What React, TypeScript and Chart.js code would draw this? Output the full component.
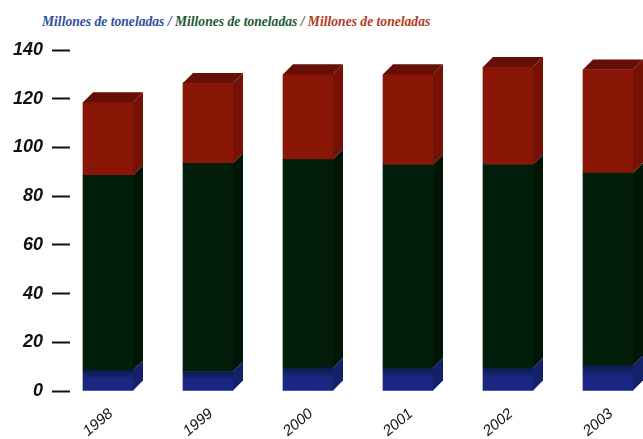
import React, { useEffect, useRef } from "react";
import { Chart, registerables } from "chart.js";
Chart.register(...registerables);

const years = ["1998", "1999", "2000", "2001", "2002", "2003"];
const blueValues = [8.5, 8, 9.5, 9.5, 9.5, 10.5];
const greenValues = [80, 85.5, 85.5, 83.5, 83.5, 79];
const redValues = [30, 33, 35, 37, 40, 42.5];
const yTickValues = [0, 20, 40, 60, 80, 100, 120, 140];
const titleTexts = ["Millones de toneladas /", " Millones de toneladas /", " Millones de toneladas"];
const titleColors = ["#2f4f9c", "#1d5a34", "#b23a22"];

const frontColors = ["#1a2884", "#021d0a", "#8a1606"];
const sideColors = ["#13206a", "#011607", "#761205"];
const topColor = "#650f06";
const DEPTH = 10;
const CANVAS_W = 720;
const CANVAS_H = 439;

const bar3d = {
  id: "bar3d",
  afterDatasetsDraw(chart: any) {
    const ctx = chart.ctx;
    const n = chart.data.datasets.length;
    chart.data.datasets.forEach((_ds: any, di: number) => {
      const meta = chart.getDatasetMeta(di);
      meta.data.forEach((bar: any) => {
        const p = bar.getProps(["x", "y", "base", "width"], true);
        const l = p.x - p.width / 2;
        const r = p.x + p.width / 2;
        const top = Math.min(p.y, p.base);
        const bot = Math.max(p.y, p.base);
        ctx.save();
        ctx.fillStyle = sideColors[di];
        ctx.beginPath();
        ctx.moveTo(r, top);
        ctx.lineTo(r + DEPTH, top - DEPTH);
        ctx.lineTo(r + DEPTH, bot - DEPTH);
        ctx.lineTo(r, bot);
        ctx.closePath();
        ctx.fill();
        if (di === n - 1) {
          ctx.fillStyle = topColor;
          ctx.beginPath();
          ctx.moveTo(l, top);
          ctx.lineTo(l + DEPTH, top - DEPTH);
          ctx.lineTo(r + DEPTH, top - DEPTH);
          ctx.lineTo(r, top);
          ctx.closePath();
          ctx.fill();
        }
        ctx.restore();
      });
    });
  },
};

export default function App() {
  const ref = useRef<HTMLCanvasElement | null>(null);
  useEffect(() => {
    if (!ref.current) return;
    const toPts = (arr: number[]) => arr.map((v, i) => ({ x: i, y: v }));
    const blueFill = (c: any) => {
      const chart = c.chart;
      const ys = chart.scales?.y;
      if (!ys || c.dataIndex === undefined) return frontColors[0];
      const y0 = ys.getPixelForValue(0);
      const y1 = ys.getPixelForValue(blueValues[c.dataIndex] ?? 0);
      if (!isFinite(y0) || !isFinite(y1) || y0 === y1) return frontColors[0];
      const g = chart.ctx.createLinearGradient(0, y0, 0, y1);
      g.addColorStop(0, "#1a2884");
      g.addColorStop(0.55, "#1a2884");
      g.addColorStop(1, "#0c1a48");
      return g;
    };
    const chart = new Chart(ref.current, {
      type: "bar",
      data: {
        datasets: [
          { data: toPts(blueValues), backgroundColor: blueFill, barThickness: 50, borderWidth: 0 },
          { data: toPts(greenValues), backgroundColor: frontColors[1], barThickness: 50, borderWidth: 0 },
          { data: toPts(redValues), backgroundColor: frontColors[2], barThickness: 50, borderWidth: 0 },
        ] as any,
      },
      options: {
        animation: false,
        responsive: false,
        devicePixelRatio: 1,
        layout: { padding: { top: 50, right: 0, left: 0, bottom: 0 } },
        plugins: { legend: { display: false }, tooltip: { enabled: false }, title: { display: false } },
        scales: {
          x: {
            type: "linear",
            stacked: true,
            offset: false,
            min: -0.38,
            max: -0.38 + (CANVAS_W - 70) / 100,
            grid: { display: false },
            border: { display: false },
            afterBuildTicks: (s: any) => {
              s.ticks = years.map((_y, i) => ({ value: i }));
            },
            afterFit: (s: any) => {
              s.height = CANVAS_H - 391;
            },
            ticks: {
              autoSkip: false,
              minRotation: 40,
              maxRotation: 40,
              padding: 6,
              labelOffset: 3,
              color: "#111",
              font: { family: "'Liberation Sans', sans-serif", size: 15, style: "italic" },
              callback: (v: any) => years[v] ?? "",
            },
          },
          y: {
            stacked: true,
            min: 0,
            max: 140,
            afterBuildTicks: (s: any) => {
              s.ticks = yTickValues.map((v) => ({ value: v }));
            },
            afterFit: (s: any) => {
              s.width = 70;
            },
            grid: { drawOnChartArea: false, drawTicks: true, tickLength: 18, tickWidth: 2, tickColor: "#111", color: "#111" },
            border: { display: false },
            ticks: {
              padding: 9,
              color: "#111",
              font: { family: "'Liberation Sans', sans-serif", size: 18, style: "italic", weight: "bold" },
            },
          },
        },
      } as any,
      plugins: [bar3d],
    });
    return () => chart.destroy();
  }, []);

  return (
    <div style={{ position: "fixed", left: 0, top: 0, width: 643, height: 439, overflow: "hidden", background: "#fff" }}>
      <div
        style={{
          position: "absolute",
          left: 42,
          top: 14,
          whiteSpace: "nowrap",
          fontFamily: "'Liberation Serif', 'DejaVu Serif', serif",
          fontStyle: "italic",
          fontWeight: "bold",
          fontSize: 13.6,
          lineHeight: "16px",
        }}
      >
        {titleTexts.map((t, i) => (
          <span key={i} style={{ color: titleColors[i] }}>
            {t}
          </span>
        ))}
      </div>
      <canvas ref={ref} width={CANVAS_W} height={CANVAS_H} style={{ display: "block", position: "absolute", left: 0, top: 0 }} />
    </div>
  );
}
